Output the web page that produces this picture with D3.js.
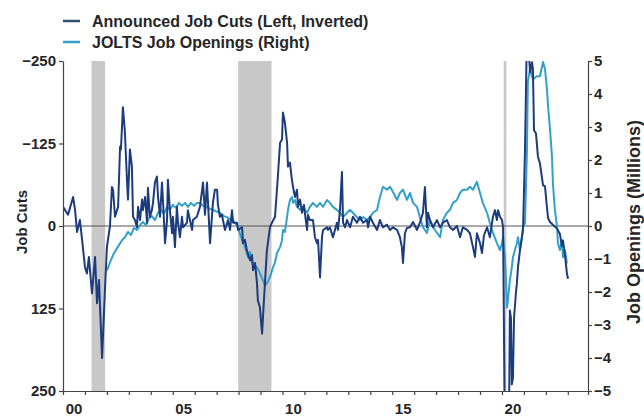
<!DOCTYPE html>
<html>
<head>
<meta charset="utf-8">
<style>
body { margin: 0; background: #fff; }
text { font-family: "Liberation Sans", Arial, sans-serif; font-weight: bold; fill: #262626; }
.axis path, .axis line { stroke: #444; stroke-width: 1.2px; }
.axis text { font-size: 15px; }
.zero { stroke: #555; stroke-width: 1.2px; }
.band { fill: #c8c8c8; }
.series { fill: none; stroke-width: 2px; stroke-linejoin: round; }
</style>
<script src="https://cdn.jsdelivr.net/npm/d3@7"></script>
</head>
<body>
<svg width="644" height="418"></svg>
<script>

// [decimal year, value]
var cutsSeries = [
  [2000.00,-29],[2000.23,-17],[2000.46,-44],[2000.55,-24],[2000.64,9],[2000.77,-9],[2000.87,21],
  [2001.00,62],[2001.09,72],[2001.18,47],[2001.32,102],[2001.46,47],[2001.55,117],[2001.64,82],
  [2001.78,200],[2001.91,98],[2002.00,32],[2002.14,0],[2002.23,-59],[2002.28,-55],[2002.37,-14],
  [2002.51,-29],[2002.60,-120],[2002.64,-116],[2002.73,-180],[2002.82,-142],[2002.92,-66],
  [2002.96,-40],[2003.05,-116],[2003.14,-90],[2003.19,-14],[2003.28,-9],[2003.37,2],[2003.42,-29],
  [2003.51,-9],[2003.60,-40],[2003.64,-24],[2003.74,-44],[2003.83,-5],[2003.87,-58],[2003.96,-14],
  [2004.05,-24],[2004.10,-35],[2004.19,-66],[2004.28,-75],[2004.33,-44],[2004.42,-14],[2004.51,-66],
  [2004.56,-35],[2004.65,26],[2004.74,-9],[2004.78,-70],[2004.87,-24],[2004.97,11],[2005.01,-14],
  [2005.10,32],[2005.19,-29],[2005.24,-5],[2005.33,17],[2005.42,-14],[2005.47,2],[2005.65,-5],
  [2005.69,-24],[2005.88,6],[2005.92,-9],[2006.10,-14],[2006.24,-29],[2006.38,-66],[2006.47,-17],
  [2006.56,-66],[2006.70,26],[2006.83,-35],[2006.92,-55],[2007.02,-55],[2007.06,-32],[2007.15,-14],
  [2007.24,-17],[2007.38,6],[2007.52,-9],[2007.61,6],[2007.70,-24],[2007.75,-5],[2007.93,-5],
  [2007.97,6],[2008.16,2],[2008.20,26],[2008.29,21],[2008.38,37],[2008.52,52],[2008.61,44],
  [2008.66,67],[2008.75,56],[2008.84,87],[2008.88,113],[2008.97,123],[2009.07,163],[2009.11,139],
  [2009.20,87],[2009.29,37],[2009.43,2],[2009.52,-5],[2009.66,-14],[2009.79,-75],[2009.89,-126],
  [2009.98,-131],[2010.02,-172],[2010.11,-157],[2010.21,-126],[2010.25,-90],[2010.34,-96],
  [2010.43,-70],[2010.48,-59],[2010.57,-44],[2010.66,-55],[2010.71,-29],[2010.80,-40],[2010.89,-20],
  [2010.98,-32],[2011.03,-17],[2011.12,6],[2011.16,-17],[2011.25,-9],[2011.39,-9],[2011.48,17],
  [2011.57,26],[2011.62,21],[2011.71,78],[2011.80,17],[2011.85,6],[2012.03,2],[2012.07,6],
  [2012.16,2],[2012.30,17],[2012.48,-5],[2012.53,6],[2012.62,-24],[2012.71,-82],[2012.76,-5],
  [2012.85,2],[2012.94,-9],[2013.08,2],[2013.21,-14],[2013.39,-5],[2013.53,-14],[2013.67,-5],
  [2013.85,-9],[2013.90,2],[2013.99,-14],[2014.12,-5],[2014.31,6],[2014.44,-9],[2014.58,2],
  [2014.76,-2],[2014.90,6],[2015.03,2],[2015.22,6],[2015.35,17],[2015.44,32],[2015.49,56],
  [2015.58,11],[2015.67,3],[2015.81,2],[2015.95,-6],[2016.13,6],[2016.26,-5],[2016.40,-20],
  [2016.49,-59],[2016.58,2],[2016.63,-20],[2016.72,-9],[2016.86,2],[2017.04,-9],[2017.18,2],
  [2017.31,-5],[2017.49,-9],[2017.63,2],[2017.77,6],[2017.95,0],[2018.09,17],[2018.22,2],
  [2018.41,6],[2018.54,11],[2018.68,32],[2018.77,47],[2018.86,11],[2019.00,26],[2019.09,41],
  [2019.18,14],[2019.32,2],[2019.45,17],[2019.59,-14],[2019.68,-24],[2019.77,-9],[2019.82,-24],
  [2019.91,-14],[2020.00,-9],[2020.05,2],[2020.14,350],[2020.23,400],[2020.32,300],[2020.36,128],
  [2020.41,140],[2020.45,240],[2020.50,230],[2020.55,139],[2020.64,100],[2020.68,87],[2020.73,62],
  [2020.82,37],[2020.91,17],[2020.96,6],[2021.05,-116],[2021.14,-300],[2021.23,-260],[2021.28,-233],
  [2021.37,-248],[2021.41,-238],[2021.46,-145],[2021.55,-140],[2021.64,-105],[2021.73,-95],
  [2021.87,-62],[2021.96,-60],[2022.05,-28],[2022.10,-12],[2022.19,-6],[2022.32,-2],[2022.51,4],
  [2022.64,12],[2022.73,30],[2022.78,22],[2022.87,44],[2022.96,72],[2023.01,80]
];

var joltsSeries = [
  [2002.00,-1.35],[2002.14,-1.1],[2002.28,-0.88],[2002.41,-0.73],[2002.55,-0.58],[2002.69,-0.43],
  [2002.82,-0.34],[2002.96,-0.18],[2003.10,-0.27],[2003.23,-0.06],[2003.37,-0.12],[2003.51,0.03],
  [2003.64,0.12],[2003.78,0.03],[2003.92,0.24],[2004.05,0.3],[2004.19,0.18],[2004.33,0.4],
  [2004.46,0.49],[2004.60,0.37],[2004.74,0.58],[2004.87,0.49],[2005.01,0.64],[2005.15,0.55],
  [2005.28,0.7],[2005.42,0.61],[2005.56,0.7],[2005.69,0.58],[2005.83,0.7],[2005.97,0.61],
  [2006.10,0.7],[2006.24,0.7],[2006.38,0.61],[2006.56,0.58],[2006.70,0.52],[2006.83,0.49],
  [2007.02,0.43],[2007.15,0.4],[2007.33,0.3],[2007.47,0.27],[2007.61,0.21],[2007.75,0.18],
  [2007.88,0.06],[2007.97,-0.03],[2008.06,-0.24],[2008.16,-0.43],[2008.29,-0.64],[2008.43,-0.95],
  [2008.52,-0.79],[2008.61,-1.1],[2008.70,-1.19],[2008.84,-1.25],[2008.97,-1.43],[2009.11,-1.65],
  [2009.20,-1.8],[2009.29,-1.74],[2009.43,-1.55],[2009.57,-1.25],[2009.66,-1.1],[2009.75,-0.82],
  [2009.89,-0.64],[2009.98,-0.43],[2010.02,-0.12],[2010.11,-0.18],[2010.21,0.27],[2010.25,0.49],
  [2010.34,0.79],[2010.43,0.88],[2010.48,0.7],[2010.57,0.79],[2010.66,0.58],[2010.80,0.49],
  [2010.93,0.58],[2011.12,0.4],[2011.25,0.58],[2011.39,0.7],[2011.57,0.58],[2011.71,0.7],
  [2011.85,0.58],[2012.03,0.79],[2012.16,0.7],[2012.30,0.58],[2012.48,0.49],[2012.62,0.4],
  [2012.76,0.27],[2012.94,0.4],[2013.08,0.49],[2013.21,0.4],[2013.39,0.27],[2013.53,0.18],
  [2013.67,0.27],[2013.85,0.18],[2013.99,0.27],[2014.12,0.4],[2014.31,0.49],[2014.44,0.88],
  [2014.58,1.19],[2014.76,1.1],[2014.90,1.19],[2015.03,1.04],[2015.22,0.79],[2015.35,1.0],
  [2015.49,1.1],[2015.67,0.79],[2015.81,1.0],[2015.95,0.7],[2016.13,0.58],[2016.26,0.27],
  [2016.40,-0.03],[2016.58,-0.21],[2016.72,0.18],[2016.86,-0.03],[2017.04,-0.21],[2017.18,-0.34],
  [2017.31,0.18],[2017.49,0.4],[2017.63,0.49],[2017.77,0.7],[2017.95,0.79],[2018.09,1.0],
  [2018.22,1.1],[2018.41,1.1],[2018.54,1.19],[2018.68,1.1],[2018.86,1.34],[2019.00,1.0],
  [2019.13,0.7],[2019.32,0.4],[2019.45,0.09],[2019.59,-0.21],[2019.77,-0.52],[2019.91,-0.73],
  [2020.00,-0.52],[2020.05,-0.34],[2020.14,-0.95],[2020.23,-2.47],[2020.27,-2.26],[2020.36,-1.65],
  [2020.45,-1.25],[2020.50,-0.95],[2020.59,-0.73],[2020.68,-0.52],[2020.73,-0.34],[2020.82,-0.73],
  [2020.91,-0.34],[2020.96,-0.03],[2021.05,0.09],[2021.14,2.32],[2021.18,4.36],[2021.28,4.76],
  [2021.37,4.54],[2021.41,4.45],[2021.59,4.54],[2021.73,4.54],[2021.87,4.97],[2021.96,4.76],
  [2022.05,4.15],[2022.10,3.63],[2022.19,2.93],[2022.28,2.1],[2022.32,1.31],[2022.41,0.49],
  [2022.51,-0.03],[2022.55,-0.52],[2022.64,-0.73],[2022.73,-0.43],[2022.78,-0.95],[2022.87,-0.73],
  [2022.96,-1.13]
];

var recessions = [[2001.3, 2001.92], [2007.98, 2009.5], [2020.08, 2020.2]];
var leftTicks = [-250, -125, 0, 125, 250];
var rightTicks = [5, 4, 3, 2, 1, 0, -1, -2, -3, -4, -5];
var xLabels = ["00", "05", "10", "15", "20"];
var legendNames = ["Announced Job Cuts (Left, Inverted)", "JOLTS Job Openings (Right)"];
var colors = ["#1d3c7e", "#33a0cb"];

var svg = d3.select("svg"),
    margin = {top: 61, right: 56, bottom: 27, left: 63},
    width = 644 - margin.left - margin.right,
    height = 418 - margin.top - margin.bottom,
    g = svg.append("g").attr("transform", "translate(" + margin.left + "," + margin.top + ")");

var x = d3.scaleLinear().domain([2000, 2023.92]).range([0, width]);
var yL = d3.scaleLinear().domain([-250, 250]).range([0, height]);   // inverted
var yR = d3.scaleLinear().domain([-5, 5]).range([height, 0]);

svg.append("defs").append("clipPath").attr("id", "plot")
  .append("rect").attr("width", width).attr("height", height);

g.selectAll(".band")
  .data(recessions)
  .enter().append("rect")
    .attr("class", "band")
    .attr("x", function(d) { return x(d[0]); })
    .attr("width", function(d) { return x(d[1]) - x(d[0]); })
    .attr("y", 0)
    .attr("height", height);

g.append("line")
    .attr("class", "zero")
    .attr("x1", 0).attr("x2", width)
    .attr("y1", yL(0)).attr("y2", yL(0));

var lines = g.append("g").attr("clip-path", "url(#plot)");

lines.append("path")
    .attr("class", "series")
    .attr("stroke", colors[1])
    .attr("d", d3.line().x(function(d) { return x(d[0]); }).y(function(d) { return yR(d[1]); })(joltsSeries));

lines.append("path")
    .attr("class", "series")
    .attr("stroke", colors[0])
    .attr("d", d3.line().x(function(d) { return x(d[0]); }).y(function(d) { return yL(d[1]); })(cutsSeries));

// axes
g.append("g")
    .attr("class", "axis")
    .call(d3.axisLeft(yL).tickValues(leftTicks).tickSize(4).tickSizeOuter(0).tickPadding(3));

g.append("g")
    .attr("class", "axis")
    .attr("transform", "translate(" + width + ",0)")
    .call(d3.axisRight(yR).tickValues(rightTicks).tickSize(4).tickSizeOuter(0).tickPadding(2));

var xAxis = g.append("g")
    .attr("class", "axis")
    .attr("transform", "translate(0," + height + ")")
    .call(d3.axisBottom(x).tickValues(d3.range(2000, 2024).concat([2023.92])).tickFormat("").tickSize(4).tickSizeOuter(0));

xAxis.selectAll(".yr")
  .data(xLabels)
  .enter().append("text")
    .attr("class", "yr")
    .attr("x", function(d) { return x(2000 + (+d) + 0.5); })
    .attr("y", 23)
    .attr("text-anchor", "middle")
    .text(function(d) { return d; });

// axis titles
svg.append("text")
    .attr("transform", "translate(27,222) rotate(-90)")
    .attr("text-anchor", "middle")
    .style("font-size", "15px")
    .text("Job Cuts");

svg.append("text")
    .attr("transform", "translate(640,222) rotate(-90)")
    .attr("text-anchor", "middle")
    .style("font-size", "18px")
    .text("Job Openings (Millions)");

// legend
var legend = svg.selectAll(".legend")
  .data(legendNames)
  .enter().append("g")
    .attr("class", "legend")
    .attr("transform", function(d, i) { return "translate(63," + (21 + i * 21) + ")"; });

legend.append("line")
    .attr("x1", 0).attr("x2", 17)
    .attr("stroke", function(d, i) { return i ? colors[1] : "#34506b"; })
    .attr("stroke-width", 2.5);

legend.append("text")
    .attr("x", 29)
    .attr("dy", "0.35em")
    .style("font-size", "16px")
    .text(function(d) { return d; });

</script>
</body>
</html>
